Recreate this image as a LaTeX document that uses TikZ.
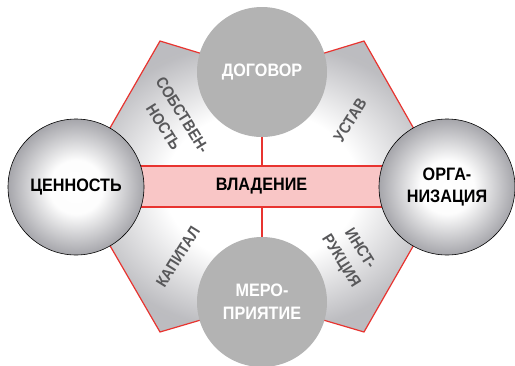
\documentclass[tikz,border=0pt]{standalone}
\usepackage{fontspec}
\newfontfamily\labelfont[FakeStretch=0.9]{Liberation Sans}
\usetikzlibrary{positioning,calc}

\definecolor{redline}{RGB}{232,52,48}
\definecolor{bandfill}{RGB}{249,198,198}
\definecolor{labelgray}{RGB}{88,88,90}
\definecolor{flatgray}{RGB}{179,179,179}
\pgfdeclareradialshading{hexshade}{\pgfpoint{0bp}{0bp}}{rgb(0bp)=(1,1,1); rgb(13bp)=(1,1,1); rgb(25bp)=(0.74,0.74,0.755); rgb(50bp)=(0.70,0.70,0.72)}
\pgfdeclareradialshading{ballshade}{\pgfpoint{0bp}{0bp}}{rgb(0bp)=(1,1,1); rgb(10bp)=(0.99,0.99,0.99); rgb(25bp)=(0.65,0.65,0.67); rgb(50bp)=(0.65,0.65,0.67)}

\begin{document}
\begin{tikzpicture}[
      x=1pt, y=-1pt,
      ball/.style={circle, draw=black, line width=0.6pt, shade, shading=ballshade,
                   minimum size=136pt, inner sep=0pt, align=center,
                   font=\labelfont\bfseries\fontsize{18}{22.7}\selectfont},
      flat/.style={circle, fill=flatgray, minimum size=130pt, inner sep=0pt,
                   align=center, text=white,
                   font=\labelfont\bfseries\fontsize{18}{22.7}\selectfont},
      side/.style={align=center, text=labelgray,
                   font=\labelfont\bfseries\fontsize{16}{22.5}\selectfont},
      link/.style={draw=redline, line width=1.2pt},
    ]
    \useasboundingbox (0,0) rectangle (515,365);
    % corner points of the frame
    \coordinate (lc) at (76,187);
    \coordinate (rc) at (447,187);
    \coordinate (tc) at (262,72);
    \coordinate (bc) at (262,302);
    \coordinate (tl) at (160,41);
    \coordinate (tr) at (364,41);
    \coordinate (br) at (364,332);
    \coordinate (bl) at (160,332);
    % shaded frame
    \shadedraw[shading=hexshade, draw=redline, line width=1.2pt]
      (lc) -- (tl) -- (tc) -- (tr) -- (rc) -- (br) -- (bc) -- (bl) -- cycle;
    % central band
    \node[draw=redline, line width=1.2pt, fill=bandfill, minimum width=371pt,
          minimum height=41pt, inner sep=0pt,
          font=\labelfont\bfseries\fontsize{18}{22}\selectfont] (band) at (261.5,186.5) {ВЛАДЕНИЕ};
    % circles
    \node[flat] (dogovor) at (tc) {ДОГОВОР};
    \node[flat] (meropr)  at (bc) {МЕРО-\\ПРИЯТИЕ};
    \node[ball] (tsennost) at (lc) {ЦЕННОСТЬ};
    \node[ball] (organiz)  at (rc) {ОРГА-\\НИЗАЦИЯ};
    % connectors
    \draw[link] (dogovor.south) -- (dogovor.south |- band.north);
    \draw[link] (meropr.north) -- (meropr.north |- band.south);
    % side labels
    \node[side, rotate=-58] (sobst)  at (173,121) {СОБСТВЕН-\\НОСТЬ};
    \node[side, rotate=58]  (ustav)  at (350,120) {УСТАВ};
    \node[side, rotate=58]  (kapit)  at (178,257) {КАПИТАЛ};
    \node[side, rotate=-58] (instr)  at (350,255) {ИНСТ-\\РУКЦИЯ};
  \end{tikzpicture}
\end{document}
